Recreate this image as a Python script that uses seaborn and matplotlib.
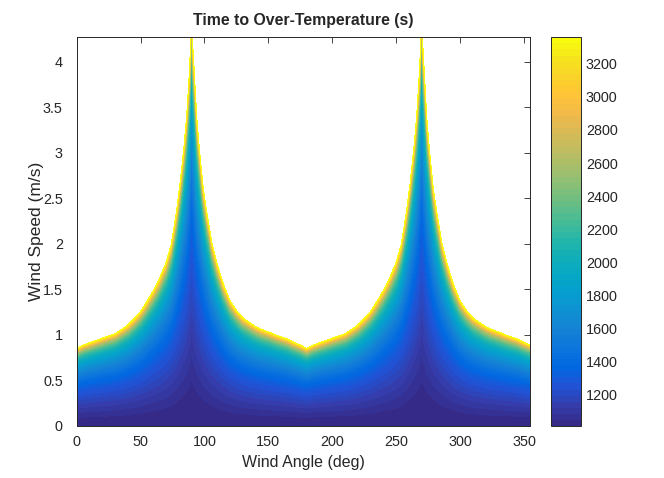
import matplotlib
matplotlib.use('Agg')
import matplotlib.pyplot as plt
from matplotlib.colors import ListedColormap, Normalize
from matplotlib.cm import ScalarMappable
import numpy as np
import seaborn as sns

sns.set_style('white')
plt.rcParams['font.family'] = ['Liberation Sans', 'DejaVu Sans']

# wind angle (deg) and the wind speed above which over-temperature is never reached
wind_angle = [0, 5, 10, 15, 20, 25, 30, 35, 40, 45, 50, 55, 60, 65, 70, 74, 78, 81,
              84, 86, 88, 89, 90, 91, 92, 94, 96, 99, 102, 106, 110, 115, 120, 125,
              130, 135, 140, 145, 150, 155, 160, 165, 170, 175, 180, 185, 190, 195,
              200, 205, 210, 215, 220, 225, 230, 235, 240, 245, 250, 254, 258, 261,
              264, 266, 268, 269, 270, 271, 272, 274, 276, 279, 282, 286, 290, 295,
              300, 305, 310, 315, 320, 325, 330, 335, 340, 345, 350, 355]
limit_speed = [0.853, 0.89, 0.915, 0.94, 0.965, 0.99, 1.015, 1.06, 1.11, 1.18, 1.26,
               1.37, 1.49, 1.63, 1.80, 2.00, 2.35, 2.68, 3.08, 3.40, 3.85, 4.15, 4.70,
               4.15, 3.90, 3.38, 3.05, 2.62, 2.33, 2.00, 1.78, 1.55, 1.38, 1.27, 1.19,
               1.14, 1.095, 1.06, 1.035, 1.005, 0.98, 0.955, 0.92, 0.89, 0.853, 0.89,
               0.915, 0.94, 0.965, 0.99, 1.015, 1.06, 1.11, 1.18, 1.26, 1.37, 1.49,
               1.63, 1.80, 2.00, 2.35, 2.68, 3.08, 3.40, 3.85, 4.15, 4.70, 4.15, 3.90,
               3.38, 3.05, 2.62, 2.33, 2.00, 1.78, 1.55, 1.38, 1.27, 1.19, 1.14, 1.095,
               1.06, 1.035, 1.005, 0.98, 0.955, 0.92, 0.89]

# time to over-temperature (s) at fractions of that limit speed
speed_fraction = [0, 0.1, 0.2, 0.3, 0.45, 0.55, 0.65, 0.75, 0.83, 0.9, 0.95, 0.98, 1.0]
time_s = [1010, 1040, 1100, 1170, 1280, 1390, 1560, 1760, 1980, 2280, 2650, 3050, 3360]

# parula-like colours, 64 steps like MATLAB
parula_keys = [(0.2081, 0.1663, 0.5292), (0.2081, 0.2386, 0.6771), (0.1253, 0.3242, 0.8303),
               (0.0060, 0.4086, 0.8828), (0.0498, 0.4586, 0.8641), (0.0779, 0.5040, 0.8384),
               (0.0641, 0.5570, 0.8240), (0.0265, 0.6137, 0.8135), (0.0228, 0.6535, 0.7768),
               (0.0590, 0.6838, 0.7254), (0.1453, 0.7098, 0.6646), (0.2586, 0.7317, 0.5954),
               (0.3953, 0.7459, 0.5244), (0.5300, 0.7491, 0.4661), (0.6473, 0.7456, 0.4188),
               (0.7525, 0.7384, 0.3768), (0.8507, 0.7299, 0.3360), (0.9450, 0.7261, 0.2886),
               (0.9990, 0.7653, 0.2164), (0.9789, 0.8271, 0.1633), (0.9589, 0.8949, 0.1132),
               (0.9763, 0.9831, 0.0538)]
cmap = ListedColormap(sns.blend_palette(parula_keys, n_colors=64))
vmin, vmax = 1010, 3360
norm = Normalize(vmin=vmin, vmax=vmax)

ang = np.array(wind_angle, dtype=float)
lim = np.array(limit_speed)
frac = np.array(speed_fraction)
X = np.tile(ang, (len(frac), 1))
Y = np.outer(frac, lim)
Z = np.tile(np.array(time_s, dtype=float)[:, None], (1, len(ang)))

fig = plt.figure(figsize=(6.64, 4.78), dpi=100)
ax = fig.add_axes([0.1155, 0.1088, 0.6832, 0.8148])
ax.contourf(X, Y, Z, levels=np.linspace(vmin, vmax + 1, 65), cmap=cmap, norm=norm)

ink = '#262626'
ax.set_xlim(0, 355)
ax.set_ylim(0, 4.28)
ax.set_xticks(np.arange(0, 351, 50))
ax.set_yticks(np.arange(0, 4.01, 0.5))
ax.set_yticklabels(['0', '0.5', '1', '1.5', '2', '2.5', '3', '3.5', '4'])
ax.tick_params(direction='in', length=4, width=0.6, top=True, right=True,
               labelsize=10.4, colors=ink)
ax.tick_params(axis='x', pad=6.5)
ax.tick_params(axis='y', pad=10)
for sp in ax.spines.values():
    sp.set_color(ink)
    sp.set_linewidth(0.7)
ax.set_xlabel('Wind Angle (deg)', fontsize=11.5, color=ink, labelpad=4)
ax.set_ylabel('Wind Speed (m/s)', fontsize=12.5, color=ink, labelpad=-1)
ax.set_title('Time to Over-Temperature (s)', fontsize=11.4, fontweight='bold', pad=8)

cax = fig.add_axes([0.8298, 0.1088, 0.0452, 0.8131])
cb = fig.colorbar(ScalarMappable(norm=norm, cmap=cmap), cax=cax,
                  ticks=np.arange(1200, 3201, 200))
cb.ax.tick_params(direction='in', length=4, width=0.6, labelsize=10.4, colors=ink)
cb.outline.set_edgecolor(ink)
cb.outline.set_linewidth(0.7)

fig.savefig('out.png', dpi=100)
